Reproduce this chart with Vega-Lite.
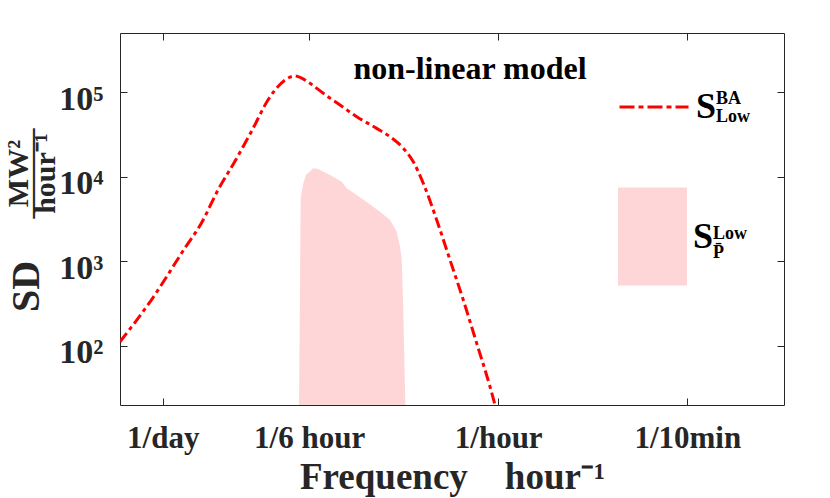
{
  "$schema": "https://vega.github.io/schema/vega-lite/v6.json",
  "width": 664,
  "height": 372,
  "autosize": {"type": "none"},
  "padding": {"left": 120, "top": 33, "right": 46, "bottom": 93},
  "background": "white",
  "title": {
    "text": "non-linear model",
    "font": "Liberation Serif",
    "fontSize": 32,
    "fontWeight": "bold",
    "color": "black",
    "anchor": "middle",
    "frame": "group",
    "baseline": "alphabetic",
    "offset": -78,
    "dx": 18
  },
  "datasets": {
    "ba": [
      {"f": 0.02778, "sd": 112},
      {"f": 0.03737, "sd": 348},
      {"f": 0.05129, "sd": 1423},
      {"f": 0.06002, "sd": 2812},
      {"f": 0.07031, "sd": 6966},
      {"f": 0.08234, "sd": 15040},
      {"f": 0.09638, "sd": 34040},
      {"f": 0.1129, "sd": 80700},
      {"f": 0.1207, "sd": 105900},
      {"f": 0.1327, "sd": 139000},
      {"f": 0.1458, "sd": 155200},
      {"f": 0.1529, "sd": 149700},
      {"f": 0.1681, "sd": 127000},
      {"f": 0.1906, "sd": 96800},
      {"f": 0.2234, "sd": 70400},
      {"f": 0.2617, "sd": 51200},
      {"f": 0.3163, "sd": 37300},
      {"f": 0.3588, "sd": 29700},
      {"f": 0.407, "sd": 21700},
      {"f": 0.4473, "sd": 15000},
      {"f": 0.4918, "sd": 8350},
      {"f": 0.5585, "sd": 3076},
      {"f": 0.6334, "sd": 1035},
      {"f": 0.7186, "sd": 348},
      {"f": 0.8158, "sd": 107},
      {"f": 0.9254, "sd": 32.9},
      {"f": 0.9703, "sd": 20},
      {"f": 1.017, "sd": 12.2}
    ],
    "pbar": [
      {"f": 0.1515, "sd": 20},
      {"f": 0.1539, "sd": 5650},
      {"f": 0.1578, "sd": 8360},
      {"f": 0.1618, "sd": 10470},
      {"f": 0.1734, "sd": 12560},
      {"f": 0.1818, "sd": 12330},
      {"f": 0.2032, "sd": 10470},
      {"f": 0.227, "sd": 8730},
      {"f": 0.2379, "sd": 7290},
      {"f": 0.2617, "sd": 6080},
      {"f": 0.2921, "sd": 4850},
      {"f": 0.3264, "sd": 3860},
      {"f": 0.3588, "sd": 3080},
      {"f": 0.3824, "sd": 2240},
      {"f": 0.3945, "sd": 1490},
      {"f": 0.4009, "sd": 1035},
      {"f": 0.4058, "sd": 348},
      {"f": 0.4103, "sd": 89},
      {"f": 0.415, "sd": 20}
    ]
  },
  "layer": [
    {
      "data": {"name": "pbar"},
      "mark": {"type": "area", "clip": true, "opacity": 1, "interpolate": "linear"},
      "encoding": {
        "x": {
          "field": "f",
          "type": "quantitative",
          "scale": {"type": "log", "domain": [0.027778, 15], "nice": false},
          "axis": {
            "orient": "bottom",
            "values": [0.0416667, 0.1666667, 1, 6],
            "labelExpr": "datum.value < 0.1 ? '1/day' : datum.value < 0.5 ? '1/6 hour' : datum.value < 2 ? '1/hour' : '1/10min'",
            "labelFontSize": 31,
            "labelPadding": 25,
            "labelFlush": false,
            "title": "Frequency\u2003hour⁻¹",
            "titleFontSize": 37,
            "titleBaseline": "alphabetic",
            "titleY": 83
          }
        },
        "y": {
          "field": "sd",
          "type": "quantitative",
          "scale": {"type": "log", "domain": [20, 500000], "nice": false},
          "axis": {
            "orient": "left",
            "values": [100, 1000, 10000, 100000],
            "labelExpr": "'10' + ['⁰','¹','²','³','⁴','⁵','⁶'][round(log(datum.value) / LN10)]",
            "labelFontSize": 34,
            "labelPadding": 24,
            "labelOffset": 7,
            "labelFlush": false,
            "title": "SD",
            "titleFontSize": 40,
            "titleAngle": 270,
            "titleAlign": "center",
            "titleBaseline": "middle",
            "titleX": -94,
            "titleY": 253
          }
        },
        "y2": {"datum": 20},
        "fill": {
          "datum": "P",
          "scale": {"range": ["#ffd6d8"]},
          "legend": {
            "orient": "none",
            "legendX": 498,
            "legendY": 169,
            "padding": 0,
            "symbolType": "M-1,-1.42H1V1.42H-1Z",
            "symbolSize": 4761,
            "symbolFillColor": "#ffd6d8",
            "symbolStrokeWidth": 0,
            "symbolOpacity": 1,
            "labelExpr": "'S'",
            "labelFont": "Liberation Serif",
            "labelFontWeight": "bold",
            "labelFontSize": 36,
            "labelColor": "black",
            "labelOffset": 6,
            "title": ["Low", "P̄"],
            "titleOrient": "right",
            "titleAnchor": "middle",
            "titleBaseline": "middle",
            "titleFont": "Liberation Serif",
            "titleFontWeight": "bold",
            "titleFontSize": 18,
            "titleLineHeight": 19,
            "titleColor": "black",
            "titlePadding": 0
          }
        }
      }
    },
    {
      "data": {"name": "ba"},
      "mark": {"type": "line", "clip": true, "strokeWidth": 3, "strokeDash": [11, 4, 4, 4], "interpolate": "monotone"},
      "encoding": {
        "x": {
          "field": "f",
          "type": "quantitative",
          "axis": {
            "orient": "top",
            "values": [0.0416667, 0.1666667, 1, 6],
            "labels": false,
            "title": ["MW²", "———", "hour⁻¹"],
            "titleFontSize": 30,
            "titleLineHeight": 13.5,
            "titleAngle": 270,
            "titleAlign": "center",
            "titleBaseline": "middle",
            "titleX": -102,
            "titleY": 140
          }
        },
        "y": {
          "field": "sd",
          "type": "quantitative",
          "axis": {
            "orient": "right",
            "values": [100, 1000, 10000, 100000],
            "labels": false,
            "title": null
          }
        },
        "stroke": {
          "datum": "BA",
          "scale": {"range": ["#ff0000"]},
          "legend": {
            "orient": "none",
            "legendX": 498,
            "legendY": 38,
            "padding": 0,
            "symbolType": "stroke",
            "symbolSize": 4761,
            "symbolStrokeWidth": 3,
            "symbolDash": [15, 4, 5, 4],
            "symbolStrokeColor": "#ff0000",
            "labelExpr": "'S'",
            "labelFont": "Liberation Serif",
            "labelFontWeight": "bold",
            "labelFontSize": 36,
            "labelColor": "black",
            "labelOffset": 6,
            "title": ["BA", "Low"],
            "titleOrient": "right",
            "titleAnchor": "middle",
            "titleBaseline": "middle",
            "titleFont": "Liberation Serif",
            "titleFontWeight": "bold",
            "titleFontSize": 18,
            "titleLineHeight": 18,
            "titleColor": "black",
            "titlePadding": 0,
            "encode": {"title": {"update": {"dy": {"value": 10}}}}
          }
        }
      }
    }
  ],
  "resolve": {"axis": {"x": "independent", "y": "independent"}},
  "config": {
    "font": "Liberation Serif",
    "view": {"stroke": null},
    "axis": {
      "grid": false,
      "domainColor": "#262626",
      "domainWidth": 1,
      "tickColor": "#262626",
      "tickWidth": 1,
      "tickSize": -7,
      "labelColor": "#262626",
      "titleColor": "#262626",
      "labelFont": "Liberation Serif",
      "titleFont": "Liberation Serif",
      "labelFontWeight": "bold",
      "titleFontWeight": "bold"
    }
  }
}
